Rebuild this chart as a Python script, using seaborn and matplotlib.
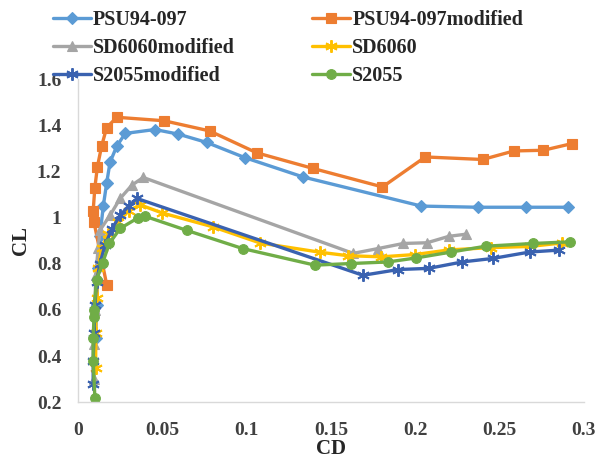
import matplotlib
matplotlib.use("Agg")
import matplotlib.pyplot as plt
import seaborn as sns
import pandas as pd

# Lift (CL) versus drag (CD) polars for six airfoils
psu_cd = [0.0105, 0.011, 0.012, 0.013, 0.015, 0.017, 0.019, 0.023, 0.028, 0.0456,
          0.0595, 0.0763, 0.099, 0.1336, 0.2037, 0.237, 0.266, 0.2906]
psu_cl = [0.48, 0.62, 0.78, 0.92, 1.05, 1.15, 1.24, 1.31, 1.365, 1.382,
          1.362, 1.326, 1.26, 1.176, 1.05, 1.045, 1.045, 1.045]

psum_cd = [0.017, 0.0095, 0.009, 0.010, 0.0115, 0.014, 0.017, 0.023, 0.051, 0.078,
           0.106, 0.1395, 0.1806, 0.206, 0.240, 0.2585, 0.276, 0.293]
psum_cl = [0.71, 0.98, 1.03, 1.13, 1.22, 1.31, 1.39, 1.435, 1.42, 1.376,
           1.281, 1.213, 1.133, 1.263, 1.252, 1.289, 1.292, 1.321]

sdm_cd = [0.0095, 0.0095, 0.010, 0.0105, 0.012, 0.013, 0.019, 0.025, 0.032, 0.0387,
          0.1632, 0.178, 0.193, 0.207, 0.220, 0.230]
sdm_cl = [0.30, 0.45, 0.60, 0.75, 0.87, 0.945, 1.01, 1.083, 1.141, 1.174,
          0.845, 0.866, 0.888, 0.891, 0.919, 0.928]

sd_cd = [0.0105, 0.0105, 0.011, 0.012, 0.014, 0.018, 0.024, 0.030, 0.037, 0.050,
         0.080, 0.108, 0.1435, 0.160, 0.180, 0.200, 0.220, 0.245, 0.268, 0.287]
sd_cl = [0.35, 0.50, 0.65, 0.78, 0.87, 0.93, 0.98, 1.03, 1.055, 1.02,
         0.96, 0.89, 0.85, 0.835, 0.83, 0.84, 0.86, 0.87, 0.875, 0.89]

s2m_cd = [0.009, 0.009, 0.0095, 0.010, 0.011, 0.013, 0.016, 0.020, 0.025, 0.030,
          0.035, 0.169, 0.190, 0.208, 0.228, 0.246, 0.268, 0.285]
s2m_cl = [0.28, 0.38, 0.50, 0.62, 0.72, 0.80, 0.88, 0.95, 1.01, 1.05,
          1.083, 0.75, 0.775, 0.78, 0.808, 0.823, 0.851, 0.859]

s2_cd = [0.010, 0.009, 0.009, 0.0095, 0.0095, 0.011, 0.0146, 0.0186, 0.025, 0.0358,
         0.0397, 0.0644, 0.0976, 0.1405, 0.162, 0.184, 0.2004, 0.2215, 0.2417, 0.270, 0.292]
s2_cl = [0.22, 0.38, 0.48, 0.57, 0.60, 0.73, 0.804, 0.888, 0.953, 1.00,
         1.006, 0.945, 0.866, 0.794, 0.801, 0.808, 0.825, 0.851, 0.876, 0.888, 0.895]

names = ["PSU94-097", "PSU94-097modified", "SD6060modified", "SD6060", "S2055modified", "S2055"]
series = {
    "PSU94-097": (psu_cd, psu_cl),
    "PSU94-097modified": (psum_cd, psum_cl),
    "SD6060modified": (sdm_cd, sdm_cl),
    "SD6060": (sd_cd, sd_cl),
    "S2055modified": (s2m_cd, s2m_cl),
    "S2055": (s2_cd, s2_cl),
}

colors = {
    "PSU94-097": "#5B9BD5",
    "PSU94-097modified": "#ED7D31",
    "SD6060modified": "#A5A5A5",
    "SD6060": "#FFC000",
    "S2055modified": "#3A62B0",
    "S2055": "#70AD47",
}
asterisk = (6, 2, 0)
markers = {
    "PSU94-097": "D",
    "PSU94-097modified": "s",
    "SD6060modified": "^",
    "SD6060": asterisk,
    "S2055modified": asterisk,
    "S2055": "o",
}
msizes = {"D": 6.5, "s": 7.5, "^": 7.5, asterisk: 9, "o": 7}

df = pd.concat(
    [pd.DataFrame({"series": n, "CD": series[n][0], "CL": series[n][1]}) for n in names],
    ignore_index=True,
)

sns.set_theme(style="white")
plt.rcParams["font.family"] = ["Liberation Serif", "DejaVu Serif"]
plt.rcParams["font.weight"] = "bold"

fig = plt.figure(figsize=(6.0, 4.66), dpi=100)
ax = fig.add_axes([0.13, 0.137, 0.843, 0.693])

handles = {}
for n in names:
    sub = df[df["series"] == n]
    m = markers[n]
    before = len(ax.lines)
    sns.lineplot(
        data=sub, x="CD", y="CL", ax=ax, sort=False, estimator=None,
        color=colors[n], marker=m, markersize=msizes[m],
        markeredgecolor=colors[n], markeredgewidth=1.4 if m == asterisk else 0.8,
        linewidth=2.4, legend=False,
    )
    handles[n] = ax.lines[before]

ax.set_xlim(0, 0.3)
ax.set_ylim(0.2, 1.6)
ax.set_xticks([0, 0.05, 0.1, 0.15, 0.2, 0.25, 0.3])
ax.set_xticklabels(["0", "0.05", "0.1", "0.15", "0.2", "0.25", "0.3"])
ax.set_yticks([0.2, 0.4, 0.6, 0.8, 1.0, 1.2, 1.4, 1.6])
ax.set_yticklabels(["0.2", "0.4", "0.6", "0.8", "1", "1.2", "1.4", "1.6"])
ax.tick_params(axis="x", length=0, labelsize=14, labelcolor="#404040", pad=14)
ax.tick_params(axis="y", length=0, labelsize=14, labelcolor="#404040", pad=12)
for lab in ax.get_xticklabels() + ax.get_yticklabels():
    lab.set_fontweight("bold")

for side in ["top", "right"]:
    ax.spines[side].set_visible(False)
for side in ["left", "bottom"]:
    ax.spines[side].set_color("#D9D9D9")
    ax.spines[side].set_linewidth(1.0)
ax.grid(False)

ax.set_xlabel("CD", fontsize=15, fontweight="bold", color="#262626", labelpad=0)
ax.set_ylabel("CL", fontsize=15, fontweight="bold", color="#262626", labelpad=4)

# Two legend columns laid out above the plot area
legend_kw = dict(
    loc="upper left", frameon=False, handlelength=1.9, handletextpad=0.1,
    labelspacing=0.4, prop={"family": "Liberation Serif", "weight": "bold", "size": 14.5},
    labelcolor="#262626", borderaxespad=0, borderpad=0,
)
left_names = ["PSU94-097", "SD6060modified", "S2055modified"]
right_names = ["PSU94-097modified", "SD6060", "S2055"]
fig.legend([handles[n] for n in left_names], left_names,
           bbox_to_anchor=(0.088, 0.978), **legend_kw)
fig.legend([handles[n] for n in right_names], right_names,
           bbox_to_anchor=(0.52, 0.978), **legend_kw)

fig.savefig("out.png", dpi=100)
